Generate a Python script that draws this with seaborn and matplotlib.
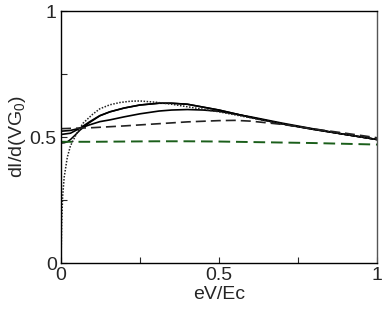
import matplotlib
matplotlib.use("Agg")
import matplotlib.pyplot as plt
import seaborn as sns

# Data
dotted_x = [0, 0.002, 0.005, 0.01, 0.02, 0.03, 0.05, 0.07, 0.1, 0.123, 0.155, 0.187, 0.22, 0.25, 0.3, 0.35, 0.4, 0.5, 0.6, 0.7, 0.8, 0.9, 1.0]
dotted_y = [0, 0.15, 0.26, 0.34, 0.42, 0.465, 0.515, 0.555, 0.59, 0.612, 0.628, 0.637, 0.642, 0.643, 0.638, 0.63, 0.62, 0.6, 0.576, 0.552, 0.53, 0.51, 0.49]

solidC_x = [0, 0.01, 0.02, 0.03, 0.045, 0.06, 0.09, 0.123, 0.155, 0.2, 0.25, 0.31, 0.35, 0.4, 0.5, 0.6, 0.7, 0.8, 0.9, 1.0]
solidC_y = [0.476, 0.477, 0.481, 0.49, 0.508, 0.527, 0.557, 0.584, 0.6, 0.615, 0.627, 0.634, 0.634, 0.63, 0.607, 0.578, 0.552, 0.53, 0.51, 0.49]

solidB_x = [0, 0.03, 0.06, 0.09, 0.123, 0.155, 0.2, 0.25, 0.31, 0.35, 0.4, 0.5, 0.6, 0.7, 0.8, 0.9, 1.0]
solidB_y = [0.51, 0.515, 0.535, 0.56, 0.585, 0.6, 0.615, 0.627, 0.634, 0.634, 0.63, 0.607, 0.578, 0.552, 0.53, 0.51, 0.49]

solidA_x = [0, 0.03, 0.06, 0.09, 0.123, 0.155, 0.2, 0.25, 0.31, 0.35, 0.4, 0.45, 0.5, 0.6, 0.7, 0.8, 0.9, 1.0]
solidA_y = [0.523, 0.526, 0.535, 0.548, 0.561, 0.568, 0.58, 0.592, 0.603, 0.607, 0.609, 0.607, 0.602, 0.58, 0.555, 0.532, 0.51, 0.49]

dash_x = [0, 0.1, 0.2, 0.3, 0.4, 0.5, 0.55, 0.6, 0.7, 0.8, 0.9, 1.0]
dashblack_y = [0.533, 0.537, 0.544, 0.552, 0.56, 0.565, 0.566, 0.563, 0.55, 0.532, 0.515, 0.497]
dashgreen_y = [0.481, 0.481, 0.482, 0.483, 0.483, 0.482, 0.481, 0.48, 0.478, 0.476, 0.473, 0.47]

x_ticks = [0, 0.5, 1]
x_ticklabels = ["0", "0.5", "1"]
y_ticks = [0, 0.5, 1]
y_ticklabels = ["0", "0.5", "1"]
minor_ticks = [0.25, 0.75]

sns.set_style("ticks")
plt.rcParams["font.family"] = ["Liberation Sans", "DejaVu Sans"]
plt.rcParams["mathtext.fontset"] = "custom"
plt.rcParams["mathtext.rm"] = "Liberation Sans"
plt.rcParams["mathtext.it"] = "Liberation Sans:italic"
plt.rcParams["mathtext.default"] = "regular"

fig = plt.figure(figsize=(3.82, 3.11), dpi=100)
ax = fig.add_axes([61/382, 48/311, 316/382, 252/311])

sns.lineplot(x=solidC_x, y=solidC_y, ax=ax, color="black", lw=1.1)
sns.lineplot(x=solidB_x, y=solidB_y, ax=ax, color="black", lw=1.2)
sns.lineplot(x=solidA_x, y=solidA_y, ax=ax, color="black", lw=1.2)
sns.lineplot(x=dash_x, y=dashblack_y, ax=ax, color="#222222", lw=1.2, linestyle=(0, (6, 3)))
sns.lineplot(x=dash_x, y=dashgreen_y, ax=ax, color="#1a5e1a", lw=1.4, linestyle=(0, (6, 3)))
sns.lineplot(x=dotted_x, y=dotted_y, ax=ax, color="#222222", lw=1.1, linestyle=(0, (1, 1.0)))

ax.set_xlim(0, 1)
ax.set_ylim(0, 1)
ax.set_xticks(x_ticks)
ax.set_xticklabels(x_ticklabels)
ax.set_yticks(y_ticks)
ax.set_yticklabels(y_ticklabels)
ax.set_xticks(minor_ticks, minor=True)
ax.set_yticks(minor_ticks, minor=True)
ax.tick_params(which="both", direction="in", length=4, width=0.8, labelsize=14, pad=3)
for s in ax.spines.values():
    s.set_visible(True)
    s.set_linewidth(1.0)
    s.set_color("black")
ax.spines["right"].set_color("#555555")
ax.set_xlabel("eV/Ec", fontsize=14, labelpad=1)
ax.set_ylabel(r"dI/d(VG$_0$)", fontsize=14, labelpad=1)

fig.savefig("out.png", dpi=100)
